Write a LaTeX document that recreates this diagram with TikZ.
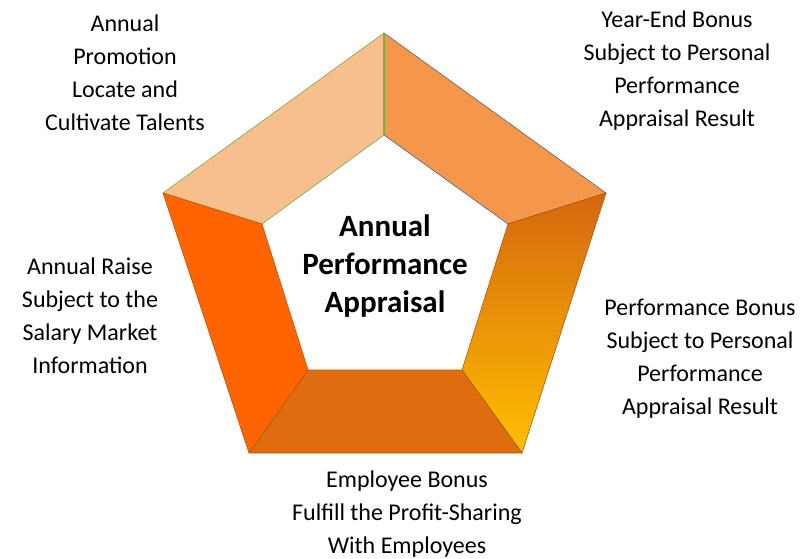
\documentclass[tikz,border=0pt]{standalone}
\usepackage{fontspec}
\setmainfont{Carlito}
\usetikzlibrary{positioning}
\definecolor{peach}{HTML}{F8BF8E}
\definecolor{tangerine}{HTML}{F5974A}
\definecolor{burnt}{HTML}{E06C10}
\definecolor{flame}{HTML}{FF6400}
\definecolor{amber}{HTML}{FFC000}
\definecolor{leafline}{HTML}{77A94A}
\definecolor{slateline}{HTML}{56607A}

\begin{document}
\begin{tikzpicture}[x=1pt,y=-1pt]
    \tikzstyle{segment}=[line width=0.6pt, line join=round]
    \tikzstyle{caption}=[align=center, font=\fontsize{24}{33}\selectfont, inner sep=0pt]
    \tikzstyle{title}=[align=center, font=\bfseries\fontsize{31}{38}\selectfont, inner sep=0pt]

    \useasboundingbox (0,0) rectangle (810,558);

    % outer and inner corners
    \coordinate (O-1) at (384,33);
    \coordinate (O-2) at (606,193);
    \coordinate (O-3) at (522,453);
    \coordinate (O-4) at (249,453);
    \coordinate (O-5) at (163,193);
    \coordinate (I-1) at (384,135);
    \coordinate (I-2) at (508,224);
    \coordinate (I-3) at (462,370);
    \coordinate (I-4) at (308,370);
    \coordinate (I-5) at (262,224);

    % the five segments
    \filldraw[segment, fill=peach, draw=leafline] (O-5) -- (O-1) -- (I-1) -- (I-5) -- cycle;
    \filldraw[segment, fill=tangerine, draw=slateline] (O-1) -- (O-2) -- (I-2) -- (I-1) -- cycle;
    \shade[top color=burnt!95!black, bottom color=amber] (O-2) -- (O-3) -- (I-3) -- (I-2) -- cycle;
    \draw[segment, draw=burnt!80!black] (O-2) -- (O-3) -- (I-3) -- (I-2) -- cycle;
    \filldraw[segment, fill=burnt, draw=burnt!80!black] (O-3) -- (O-4) -- (I-4) -- (I-3) -- cycle;
    \filldraw[segment, fill=flame, draw=burnt!80!black] (O-4) -- (O-5) -- (I-5) -- (I-4) -- cycle;
    \draw[segment, draw=leafline] (O-1) -- (I-1);

    % labels
    \node[title] (centre) at (385,266) {Annual\\Performance\\Appraisal};
    \node[caption] (promo) at (125,73) {Annual\\Promotion\\Locate and\\Cultivate Talents};
    \node[caption] (yearend) at (677,71) {Year-End Bonus\\Subject to Personal\\Performance\\Appraisal Result};
    \node[caption] (raise) at (90,316) {Annual Raise\\Subject to the\\Salary Market\\Information};
    \node[caption] (perfbonus) at (700,359) {Performance Bonus\\Subject to Personal\\Performance\\Appraisal Result};
    \node[caption] (empbonus) at (407,514) {Employee Bonus\\Fulfill the Profit-Sharing\\With Employees};
\end{tikzpicture}
\end{document}
